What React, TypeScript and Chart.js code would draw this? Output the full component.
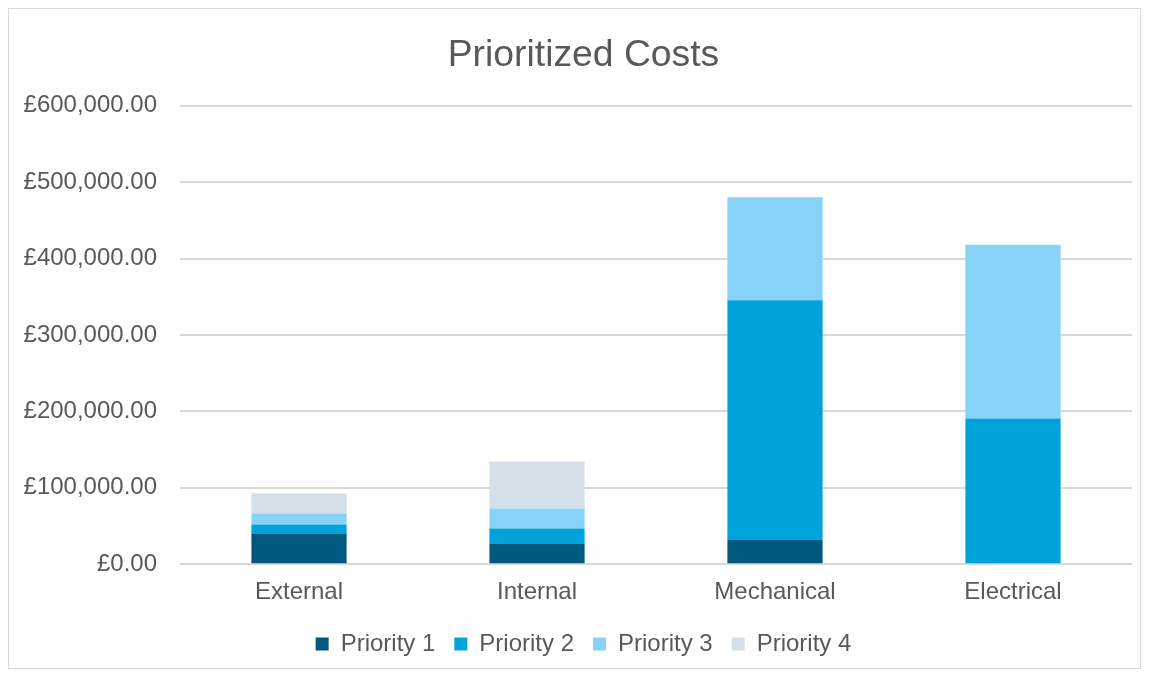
import React, { useEffect, useRef } from "react";
import { Chart, registerables } from "chart.js";

Chart.register(...registerables);

const categories = ["External", "Internal", "Mechanical", "Electrical"];
const priority1 = [39500, 26400, 32400, 0];
const priority2 = [12500, 20400, 313000, 190600];
const priority3 = [14400, 26100, 135000, 227400];
const priority4 = [26100, 61100, 0, 0];
const seriesNames = ["Priority 1", "Priority 2", "Priority 3", "Priority 4"];
const seriesColors = ["#00587f", "#00a2da", "#86d3f7", "#d4dfea"];

const FONT = "'Liberation Sans', Arial, sans-serif";
const TEXT = "#595959";

const unclipYLabels = {
  id: "unclipYLabels",
  afterLayout(chart: any) {
    if (chart.scales.y) chart.scales.y.left = 0;
  },
};

export default function App() {
  const ref = useRef<HTMLCanvasElement | null>(null);
  useEffect(() => {
    if (!ref.current) return;
    const values = [priority1, priority2, priority3, priority4];
    const chart = new Chart(ref.current, {
      type: "bar",
      data: {
        labels: categories,
        datasets: values.map((v, i) => ({
          label: seriesNames[i],
          data: v,
          backgroundColor: seriesColors[i],
          borderWidth: 0,
          categoryPercentage: 1,
          barPercentage: 0.4,
        })),
      },
      plugins: [unclipYLabels],
      options: {
        animation: false,
        responsive: true,
        maintainAspectRatio: false,
        layout: { padding: { left: 26, right: 8, top: 14, bottom: 2 } },
        plugins: {
          title: {
            display: true,
            text: "Prioritized Costs",
            color: TEXT,
            font: { family: FONT, size: 37.3, weight: "normal" },
            padding: { top: 10, bottom: 28 },
          },
          legend: {
            position: "bottom",
            labels: {
              color: TEXT,
              font: { family: FONT, size: 24 },
              boxWidth: 13,
              boxHeight: 13,
              padding: 19,
            },
          },
          tooltip: { enabled: false },
        },
        scales: {
          x: {
            stacked: true,
            grid: { display: false },
            border: { display: false },
            ticks: { color: TEXT, font: { family: FONT, size: 24 }, padding: 6 },
          },
          y: {
            stacked: true,
            min: 0,
            max: 600000,
            afterFit: (axis: any) => {
              axis.width = 145;
            },
            grid: { color: "#d9d9d9", lineWidth: 2, drawTicks: false },
            border: { display: false },
            ticks: {
              stepSize: 100000,
              color: TEXT,
              padding: 23,
              font: { family: FONT, size: 24 },
              callback: (v: any) =>
                "£" +
                Number(v).toLocaleString("en-GB", {
                  minimumFractionDigits: 2,
                  maximumFractionDigits: 2,
                }),
            },
          },
        },
      },
    });
    return () => chart.destroy();
  }, []);
  return (
    <div
      style={{
        width: 1133,
        height: 661,
        border: "1px solid #d9d9d9",
        boxSizing: "border-box",
        background: "#fff",
      }}
    >
      <div style={{ position: "relative", width: 1131, height: 659 }}>
        <canvas ref={ref} />
      </div>
    </div>
  );
}
